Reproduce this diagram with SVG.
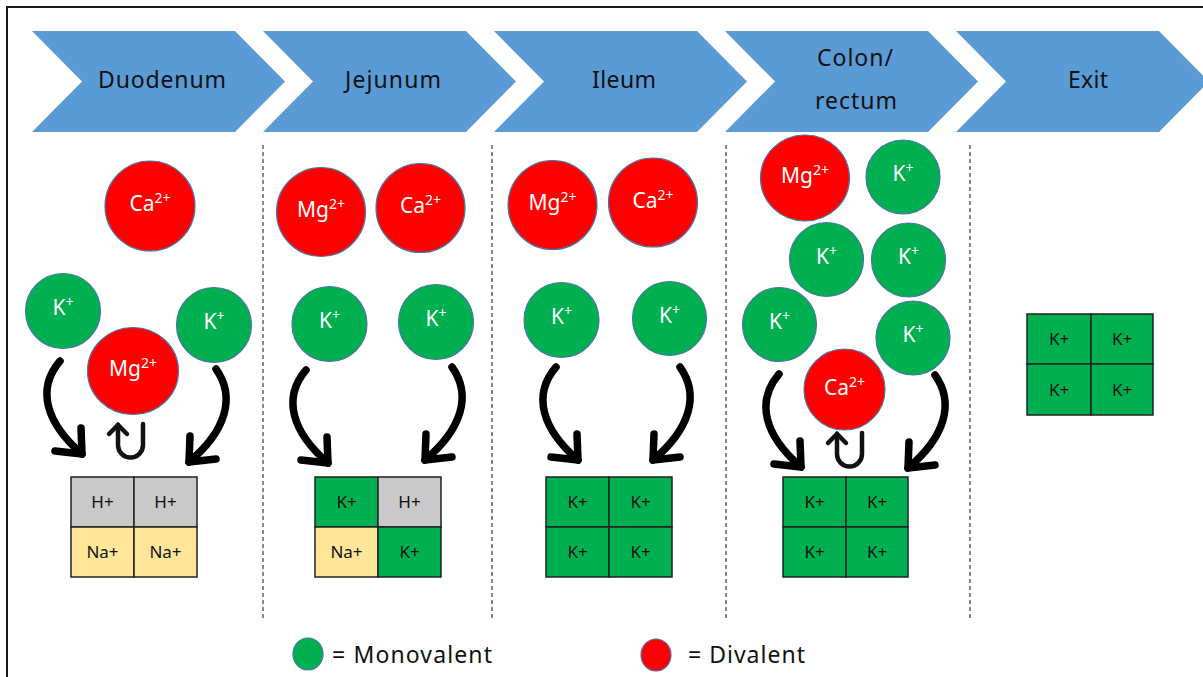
<svg xmlns="http://www.w3.org/2000/svg" xmlns:xlink="http://www.w3.org/1999/xlink" width="1203" height="677" viewBox="0 0 1203 677">
  <style>
    .frame { fill: none; stroke: #1a1a1a; stroke-width: 2; }
    .chev { fill: #5b9bd5; }
    .stage { font-family: "Noto Sans", "DejaVu Sans", sans-serif; font-size: 23px; fill: #111; text-anchor: middle; }
    .sep { stroke: #555; stroke-width: 1.4; stroke-dasharray: 4 3; }
    .mono { fill: #00b050; stroke: #4a74a8; stroke-width: 1.2; }
    .di { fill: #ff0000; stroke: #4a74a8; stroke-width: 1.2; }
    .ion { font-family: "Noto Sans", "DejaVu Sans", sans-serif; font-size: 21px; fill: #fff; text-anchor: middle; }
    .sup { font-size: 14px; }
    .arrow { fill: none; stroke: #000; stroke-width: 7.5; stroke-linecap: round; stroke-linejoin: round; }
    .uturn { fill: none; stroke: #111; stroke-width: 4.5; stroke-linejoin: miter; }
    .cell { stroke: #222; stroke-width: 1.5; }
    .g { fill: #00b050; }
    .h { fill: #c9c9c9; }
    .na { fill: #ffe699; }
    .cellt { font-family: "Noto Sans", "DejaVu Sans", sans-serif; font-size: 17px; fill: #111; text-anchor: middle; }
    .legend { font-family: "Noto Sans", "DejaVu Sans", sans-serif; font-size: 23px; fill: #111; }
  </style>
  <defs>
    <!-- chevron step shape, origin at the left top corner -->
    <polygon id="chevron" points="0,31 203,31 253,81.5 203,132 0,132 50,81.5"/>
    <!-- curved arrow bending in from the left, origin at its tail -->
    <g id="arrowL">
      <path d="M0,0 C-24,28 -14,62 22,93"/>
      <path d="M-5,90 L22,93 L21,67"/>
    </g>
    <!-- curved arrow bending in from the right -->
    <g id="arrowR">
      <path d="M0,0 C20,28 10,62 -27,93"/>
      <path d="M0,90 L-27,93 L-26,67"/>
    </g>
    <!-- small U-turn arrow, origin at the arrow tip -->
    <g id="uturn">
      <path d="M0,1 L0,21 A12.5,12.5 0 0 0 25,21 L25,0"/>
      <path d="M-9,10 L0,1 L9,10"/>
    </g>
  </defs>

  <rect width="1203" height="677" fill="#fff"/>
  <path class="frame" d="M7,677 V7 H1203"/>

  <!-- stages -->
  <g id="stage-duodenum">
    <use xlink:href="#chevron" class="chev" x="32"/>
    <text class="stage" x="162" y="88" textLength="128">Duodenum</text>
  </g>
  <g id="stage-jejunum">
    <use xlink:href="#chevron" class="chev" x="263"/>
    <text class="stage" x="393" y="88" textLength="96">Jejunum</text>
  </g>
  <g id="stage-ileum">
    <use xlink:href="#chevron" class="chev" x="494"/>
    <text class="stage" x="624" y="88" textLength="64">Ileum</text>
  </g>
  <g id="stage-colon">
    <use xlink:href="#chevron" class="chev" x="725"/>
    <text class="stage" x="855" y="66" textLength="76">Colon/</text>
    <text class="stage" x="856" y="109" textLength="82">rectum</text>
  </g>
  <g id="stage-exit">
    <use xlink:href="#chevron" class="chev" x="956"/>
    <text class="stage" x="1088" y="88" textLength="40">Exit</text>
  </g>

  <!-- column separators -->
  <g id="separators">
    <line class="sep" x1="263" y1="145" x2="263" y2="618"/>
    <line class="sep" x1="492" y1="145" x2="492" y2="618"/>
    <line class="sep" x1="726" y1="145" x2="726" y2="618"/>
    <line class="sep" x1="970" y1="145" x2="970" y2="618"/>
  </g>

  <!-- duodenum ions -->
  <g id="duo-ca">
    <circle class="di" cx="150" cy="206" r="45"/>
    <text class="ion" x="150" y="211">Ca<tspan class="sup" dy="-8">2+</tspan></text>
  </g>
  <g id="duo-k1">
    <circle class="mono" cx="63" cy="311" r="37.5"/>
    <text class="ion" x="63" y="315">K<tspan class="sup" dy="-8">+</tspan></text>
  </g>
  <g id="duo-k2">
    <circle class="mono" cx="214" cy="325" r="37.5"/>
    <text class="ion" x="214" y="329">K<tspan class="sup" dy="-8">+</tspan></text>
  </g>
  <g id="duo-mg">
    <ellipse class="di" cx="133" cy="371" rx="45.5" ry="43.5"/>
    <text class="ion" x="133" y="376">Mg<tspan class="sup" dy="-8">2+</tspan></text>
  </g>

  <!-- jejunum ions -->
  <g id="jej-mg">
    <circle class="di" cx="321" cy="212" r="44.5"/>
    <text class="ion" x="321" y="217">Mg<tspan class="sup" dy="-8">2+</tspan></text>
  </g>
  <g id="jej-ca">
    <circle class="di" cx="420.5" cy="208" r="44.5"/>
    <text class="ion" x="420.5" y="213">Ca<tspan class="sup" dy="-8">2+</tspan></text>
  </g>
  <g id="jej-k1">
    <circle class="mono" cx="329.5" cy="324" r="37.5"/>
    <text class="ion" x="329.5" y="328">K<tspan class="sup" dy="-8">+</tspan></text>
  </g>
  <g id="jej-k2">
    <circle class="mono" cx="436" cy="322" r="37.5"/>
    <text class="ion" x="436" y="326">K<tspan class="sup" dy="-8">+</tspan></text>
  </g>

  <!-- ileum ions -->
  <g id="ile-mg">
    <circle class="di" cx="552.5" cy="205" r="44.5"/>
    <text class="ion" x="552.5" y="210">Mg<tspan class="sup" dy="-8">2+</tspan></text>
  </g>
  <g id="ile-ca">
    <circle class="di" cx="653" cy="202.5" r="44.5"/>
    <text class="ion" x="653" y="207.5">Ca<tspan class="sup" dy="-8">2+</tspan></text>
  </g>
  <g id="ile-k1">
    <circle class="mono" cx="561.5" cy="320" r="37.5"/>
    <text class="ion" x="561.5" y="324">K<tspan class="sup" dy="-8">+</tspan></text>
  </g>
  <g id="ile-k2">
    <circle class="mono" cx="669.5" cy="318.5" r="37"/>
    <text class="ion" x="669.5" y="322.5">K<tspan class="sup" dy="-8">+</tspan></text>
  </g>

  <!-- colon / rectum ions -->
  <g id="col-mg">
    <ellipse class="di" cx="805" cy="178" rx="44.5" ry="43"/>
    <text class="ion" x="805" y="183">Mg<tspan class="sup" dy="-8">2+</tspan></text>
  </g>
  <g id="col-k1">
    <circle class="mono" cx="903" cy="177" r="37"/>
    <text class="ion" x="903" y="181">K<tspan class="sup" dy="-8">+</tspan></text>
  </g>
  <g id="col-k2">
    <circle class="mono" cx="826.5" cy="259.5" r="37"/>
    <text class="ion" x="826.5" y="263.5">K<tspan class="sup" dy="-8">+</tspan></text>
  </g>
  <g id="col-k3">
    <circle class="mono" cx="908.5" cy="260" r="37"/>
    <text class="ion" x="908.5" y="264">K<tspan class="sup" dy="-8">+</tspan></text>
  </g>
  <g id="col-k4">
    <circle class="mono" cx="779.5" cy="324.5" r="37"/>
    <text class="ion" x="779.5" y="328.5">K<tspan class="sup" dy="-8">+</tspan></text>
  </g>
  <g id="col-k5">
    <circle class="mono" cx="913" cy="338" r="37"/>
    <text class="ion" x="913" y="342">K<tspan class="sup" dy="-8">+</tspan></text>
  </g>
  <g id="col-ca">
    <circle class="di" cx="844.5" cy="389.5" r="40.5"/>
    <text class="ion" x="844.5" y="394.5">Ca<tspan class="sup" dy="-8">2+</tspan></text>
  </g>

  <!-- arrows -->
  <g id="connectors" class="arrow">
    <use xlink:href="#arrowL" x="60" y="361"/>
    <use xlink:href="#arrowR" x="216" y="369"/>
    <use xlink:href="#arrowL" x="306" y="370"/>
    <use xlink:href="#arrowR" x="452" y="367"/>
    <use xlink:href="#arrowL" x="556" y="367"/>
    <use xlink:href="#arrowR" x="680" y="367"/>
    <use xlink:href="#arrowL" x="779" y="374"/>
    <use xlink:href="#arrowR" x="935" y="375"/>
    <use xlink:href="#uturn" class="uturn" x="118" y="424"/>
    <use xlink:href="#uturn" class="uturn" x="837" y="433"/>
  </g>

  <!-- membrane grids -->
  <g id="grid-duodenum">
    <rect class="cell h" x="71" y="477" width="63" height="50"/>
    <rect class="cell h" x="134" y="477" width="63" height="50"/>
    <rect class="cell na" x="71" y="527" width="63" height="50"/>
    <rect class="cell na" x="134" y="527" width="63" height="50"/>
    <text class="cellt" x="102.5" y="508">H+</text>
    <text class="cellt" x="165.5" y="508">H+</text>
    <text class="cellt" x="102.5" y="558">Na+</text>
    <text class="cellt" x="165.5" y="558">Na+</text>
  </g>
  <g id="grid-jejunum">
    <rect class="cell g" x="315" y="477" width="63" height="50"/>
    <rect class="cell h" x="378" y="477" width="63" height="50"/>
    <rect class="cell na" x="315" y="527" width="63" height="50"/>
    <rect class="cell g" x="378" y="527" width="63" height="50"/>
    <text class="cellt" x="346.5" y="508">K+</text>
    <text class="cellt" x="409.5" y="508">H+</text>
    <text class="cellt" x="346.5" y="558">Na+</text>
    <text class="cellt" x="409.5" y="558">K+</text>
  </g>
  <g id="grid-ileum">
    <rect class="cell g" x="546" y="477" width="63" height="50"/>
    <rect class="cell g" x="609" y="477" width="63" height="50"/>
    <rect class="cell g" x="546" y="527" width="63" height="50"/>
    <rect class="cell g" x="609" y="527" width="63" height="50"/>
    <text class="cellt" x="577.5" y="508">K+</text>
    <text class="cellt" x="640.5" y="508">K+</text>
    <text class="cellt" x="577.5" y="558">K+</text>
    <text class="cellt" x="640.5" y="558">K+</text>
  </g>
  <g id="grid-colon">
    <rect class="cell g" x="783" y="477" width="63" height="50"/>
    <rect class="cell g" x="846" y="477" width="62" height="50"/>
    <rect class="cell g" x="783" y="527" width="63" height="50"/>
    <rect class="cell g" x="846" y="527" width="62" height="50"/>
    <text class="cellt" x="814.5" y="508">K+</text>
    <text class="cellt" x="877" y="508">K+</text>
    <text class="cellt" x="814.5" y="558">K+</text>
    <text class="cellt" x="877" y="558">K+</text>
  </g>
  <g id="grid-exit">
    <rect class="cell g" x="1027" y="314" width="64" height="50"/>
    <rect class="cell g" x="1091" y="314" width="62" height="50"/>
    <rect class="cell g" x="1027" y="364" width="64" height="51"/>
    <rect class="cell g" x="1091" y="364" width="62" height="51"/>
    <text class="cellt" x="1059" y="345">K+</text>
    <text class="cellt" x="1122" y="345">K+</text>
    <text class="cellt" x="1059" y="396">K+</text>
    <text class="cellt" x="1122" y="396">K+</text>
  </g>

  <!-- legend -->
  <g id="legend-mono">
    <ellipse class="mono" cx="308" cy="654" rx="15" ry="16"/>
    <text class="legend" x="332" y="663" textLength="160">= Monovalent</text>
  </g>
  <g id="legend-di">
    <ellipse class="di" cx="656" cy="655" rx="15" ry="16"/>
    <text class="legend" x="688" y="663" textLength="117">= Divalent</text>
  </g>
</svg>
